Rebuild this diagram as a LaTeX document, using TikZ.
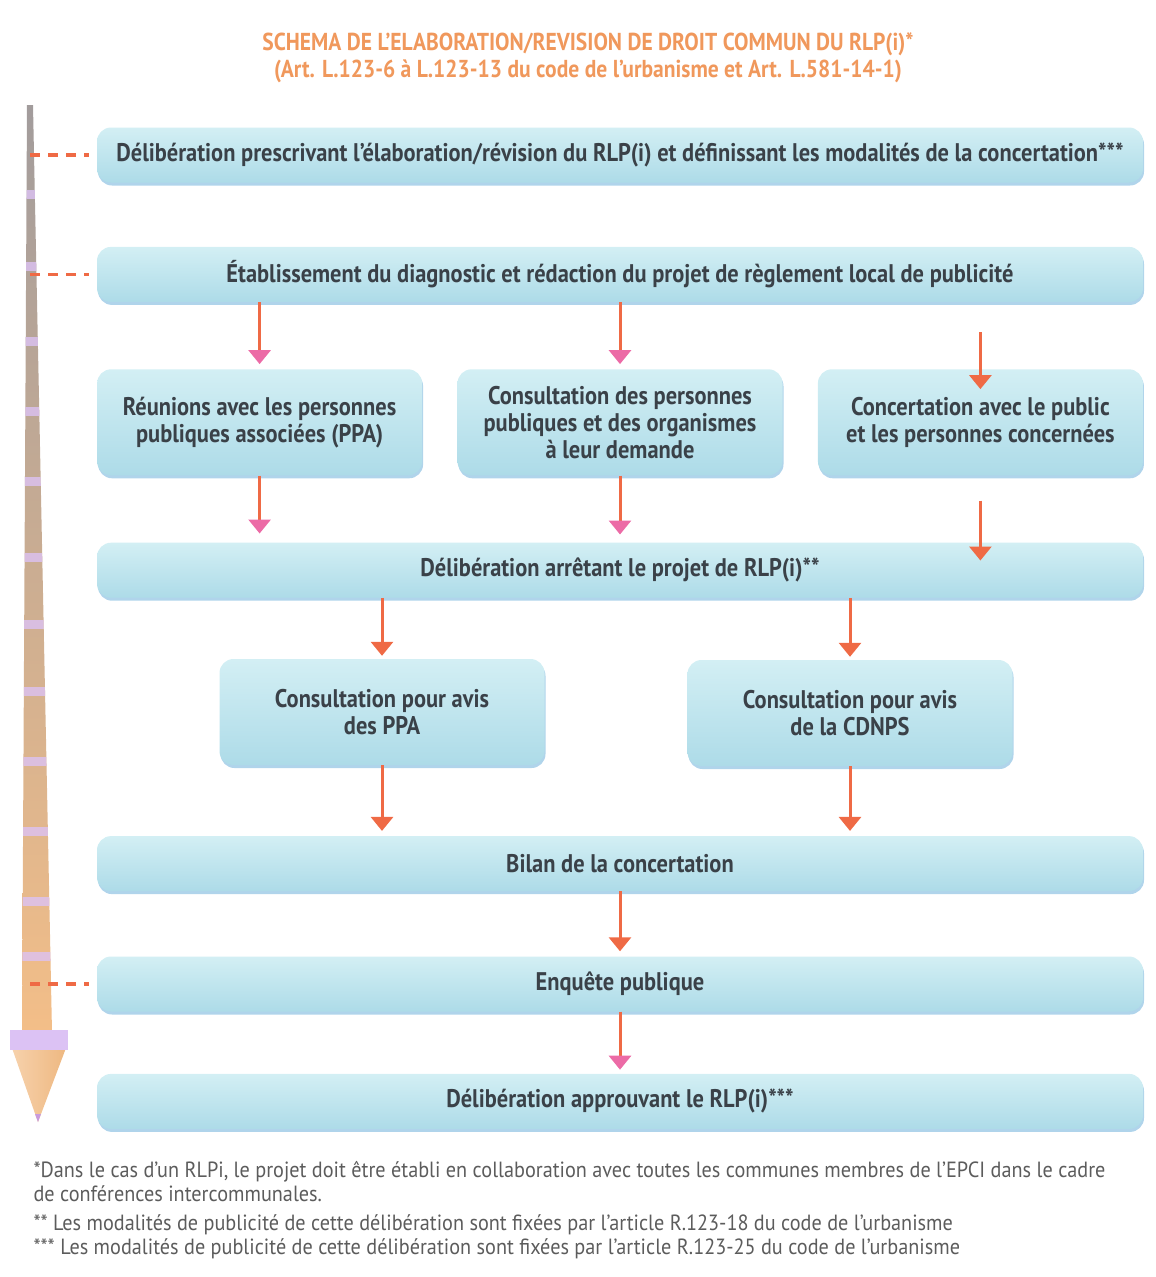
\documentclass[tikz,border=0pt]{standalone}
\usepackage{fontspec}
\setmainfont{PT Sans}
\newfontfamily\boxfont[FakeStretch=0.88]{PT Sans}
\newfontfamily\notefont[FakeStretch=0.92]{PT Sans}
\usetikzlibrary{positioning,arrows.meta,shadows}

\definecolor{boxtop}{HTML}{D3EFF4}
\definecolor{boxbot}{HTML}{ADDBE8}
\definecolor{boxshade}{HTML}{8EC2E2}
\definecolor{boxtext}{HTML}{3A4148}
\definecolor{arrowred}{HTML}{EF6A45}
\definecolor{arrowpink}{HTML}{EC6BA6}
\definecolor{titleorange}{HTML}{F0985C}
\definecolor{notegrey}{HTML}{5C5C5C}
\definecolor{pencilgrey}{HTML}{A29C9C}
\definecolor{penciltan}{HTML}{F3BE88}
\definecolor{pencilband}{HTML}{DCC2F4}

\begin{document}
\begin{tikzpicture}[x=1pt, y=-1pt,
stage/.style={rounded corners=14pt, top color=boxtop, bottom color=boxbot, draw=none,
  minimum width=1046pt, minimum height=55pt, align=center, text=boxtext,
  font=\boxfont\bfseries\fontsize{25.5}{27}\selectfont,
  drop shadow={shadow xshift=1pt, shadow yshift=-3pt, fill=boxshade, opacity=0.7}},
substage/.style={stage, minimum width=325pt, minimum height=106pt},
arrow/.style={-{Triangle[width=22pt,length=14pt]}, line width=3pt, draw=arrowred},
pinkarrow/.style={arrow, -{Triangle[width=22pt,length=14pt,color=arrowpink]}},
dashline/.style={line width=3.5pt, draw=arrowred, dash pattern=on 10pt off 8pt},
]

\useasboundingbox (0,0) rectangle (1156,1277);

% pencil timeline
\coordinate (pen) at (30,0);
\shade[top color=pencilgrey, bottom color=penciltan] (27,105) -- (33,105) -- (52,1032) -- (22,1032) -- cycle;
\begin{scope}
\clip (27,105) -- (33,105) -- (52,1032) -- (22,1032) -- cycle;
\foreach \y in {190,262,337,407,477,553,620,687,757,827,897,952}
  \fill[pencilband, opacity=0.8] (15,\y) rectangle (60,\y+9);
\end{scope}
\shade[left color=penciltan!70!white, right color=penciltan!90!brown] (12,1048) -- (66,1048) -- (38,1122) -- cycle;
\fill[pencilband] (10,1030) rectangle (68,1050);
\fill[pencilband!80!violet] (35,1114) -- (41,1114) -- (38,1122) -- cycle;

% title
\node[text=titleorange, font=\boxfont\bfseries\fontsize{24.5}{27}\selectfont, align=center] (title) at (588,58)
  {SCHEMA DE L’ELABORATION/REVISION DE DROIT COMMUN DU RLP(i)*\\
   (Art. L.123-6 à L.123-13 du code de l’urbanisme et Art. L.581-14-1)};

% steps
\node[stage] (b1) at (620,155) {Délibération prescrivant l’élaboration/révision du RLP(i) et définissant les modalités de la concertation***};
\node[stage] (b2) [below=64pt of b1] {Établissement du diagnostic et rédaction du projet de règlement local de publicité};
\node[substage] (b3b) [below=67pt of b2] {Consultation des personnes\\publiques et des organismes\\à leur demande};
\node[substage] (b3a) [left=35pt of b3b] {Réunions avec les personnes\\publiques associées (PPA)};
\node[substage] (b3c) [right=35pt of b3b] {Concertation avec le public\\et les personnes concernées};
\node[stage] (b4) [below=67pt of b3b] {Délibération arrêtant le projet de RLP(i)**};
\node[substage] (b5a) at (382,712) {Consultation pour avis\\des PPA};
\node[substage] (b5b) at (850,713) {Consultation pour avis\\de la CDNPS};
\node[stage] (b6) [below=238pt of b4] {Bilan de la concertation};
\node[stage] (b7) [below=65pt of b6] {Enquête publique};
\node[stage] (b8) [below=62pt of b7] {Délibération approuvant le RLP(i)***};

% arrows
\draw[pinkarrow, shorten >=5pt] (b2.south -| b3a) -- (b3a.north);
\draw[pinkarrow, shorten >=5pt] (b2.south -| b3b) -- (b3b.north);
\draw[arrow, shorten <=30pt, shorten >=-20pt] (b2.south -| b3c) -- (b3c.north);
\draw[pinkarrow, shorten >=9pt] (b3a.south) -- (b3a.south |- b4.north);
\draw[pinkarrow, shorten >=8pt] (b3b.south) -- (b3b.south |- b4.north);
\draw[arrow, shorten <=25pt, shorten >=-18pt] (b3c.south) -- (b3c.south |- b4.north);
\draw[arrow, shorten >=3pt] (b4.south -| b5a) -- (b5a.north);
\draw[arrow, shorten >=3pt] (b4.south -| b5b) -- (b5b.north);
\draw[arrow, shorten >=5pt] (b5a.south) -- (b5a.south |- b6.north);
\draw[arrow, shorten >=5pt] (b5b.south) -- (b5b.south |- b6.north);
\draw[arrow, shorten >=5pt] (b6.south) -- (b7.north);
\draw[pinkarrow, shorten >=4pt] (b7.south) -- (b8.north);

% dashed links to the timeline
\draw[dashline, shorten >=8pt] (b1.west -| pen) -- (b1.west);
\draw[dashline, shorten >=8pt] (b2.west -| pen) -- (b2.west);
\draw[dashline, shorten >=8pt] (b7.west -| pen) -- (b7.west);

% notes
\node[anchor=north west, align=left, text=notegrey, font=\notefont\fontsize{22}{24}\selectfont] (notes) at (30,1158)
  {*Dans le cas d’un RLPi, le projet doit être établi en collaboration avec toutes les communes membres de l’EPCI dans le cadre\\
   de conférences intercommunales.\\[5pt]
   ** Les modalités de publicité de cette délibération sont fixées par l’article R.123-18 du code de l’urbanisme\\
   *** Les modalités de publicité de cette délibération sont fixées par l’article R.123-25 du code de l’urbanisme};

\end{tikzpicture}
\end{document}
